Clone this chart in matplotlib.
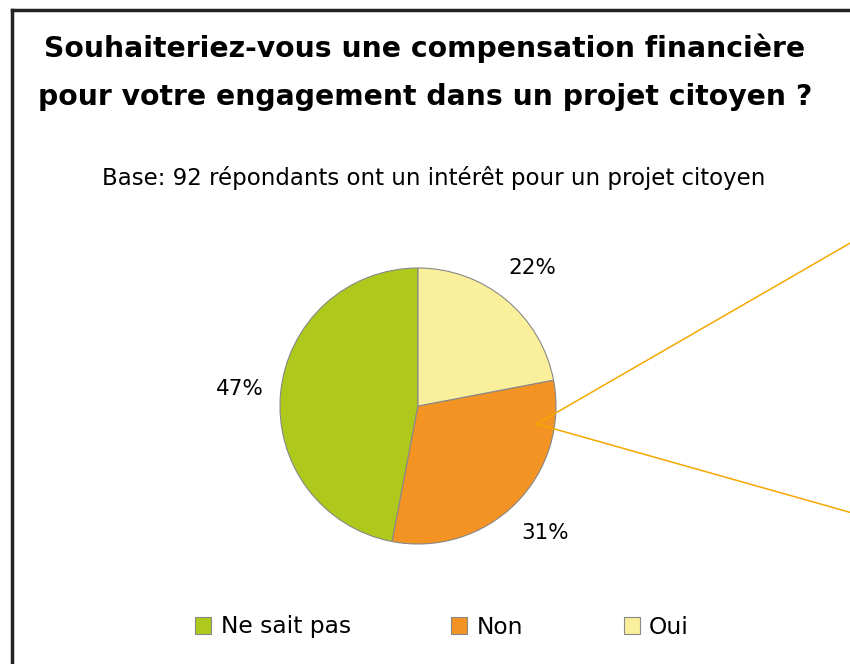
import numpy as np
import matplotlib
matplotlib.use('Agg')
import matplotlib.pyplot as plt
from matplotlib.lines import Line2D
from matplotlib.patches import Patch

# data
categories = ['Ne sait pas', 'Non', 'Oui']
shares = [47, 31, 22]
colors = ['#AFC81C', '#F39323', '#FAF09B']

title_lines = ['Souhaiteriez-vous une compensation financière',
               'pour votre engagement dans un projet citoyen ?']
subtitle = 'Base: 92 répondants ont un intérêt pour un projet citoyen'

plt.rcParams['font.family'] = ['DejaVu Sans']

fig = plt.figure(figsize=(8.5, 6.64), dpi=100)
fig.patch.set_facecolor('white')

# frame lines (left and top)
fig.add_artist(Line2D([12 / 850, 12 / 850], [0, 1 - 10 / 664],
                      color='#222222', lw=2.5, transform=fig.transFigure))
fig.add_artist(Line2D([12 / 850, 1], [1 - 10 / 664, 1 - 10 / 664],
                      color='#222222', lw=2.5, transform=fig.transFigure))

fig.text(0.5, 1 - 48 / 664, title_lines[0], ha='center', va='center',
         fontsize=20.3, fontweight='bold')
fig.text(0.5, 1 - 97 / 664, title_lines[1], ha='center', va='center',
         fontsize=20.3, fontweight='bold')
fig.text(0.51, 1 - 178 / 664, subtitle, ha='center', va='center',
         fontsize=16.5)

ax = fig.add_axes([0.3294, 0.1807, 0.3247, 0.4157])
wedges, texts, autotexts = ax.pie(
    shares, colors=colors, startangle=90, counterclock=True,
    autopct='%1.0f%%', pctdistance=1.3,
    wedgeprops=dict(edgecolor='#888888', linewidth=0.8),
    textprops=dict(fontsize=15.5))
ax.set_xlim(-1, 1)
ax.set_ylim(-1, 1)
ax.set_aspect('equal')
ax.axis('off')

# callout lines from the "Non" slice
theta = np.deg2rad(-8.6)
apex = (0.87 * np.cos(theta), 0.87 * np.sin(theta))
for end in [(3.2, 1.22), (3.2, -0.79)]:
    ax.plot([apex[0], end[0]], [apex[1], end[1]], color='#F5A800',
            lw=1.1, clip_on=False)

handles = [Patch(facecolor=c, edgecolor='#888888', linewidth=0.8)
           for c in colors]
fig.legend(handles, categories, loc='center', ncol=3,
           bbox_to_anchor=(0.52, 1 - 627 / 664), frameon=False,
           fontsize=16.8, handlelength=0.7, handleheight=0.7,
           handletextpad=0.4, columnspacing=4.3)

fig.savefig('out.png', dpi=100)
